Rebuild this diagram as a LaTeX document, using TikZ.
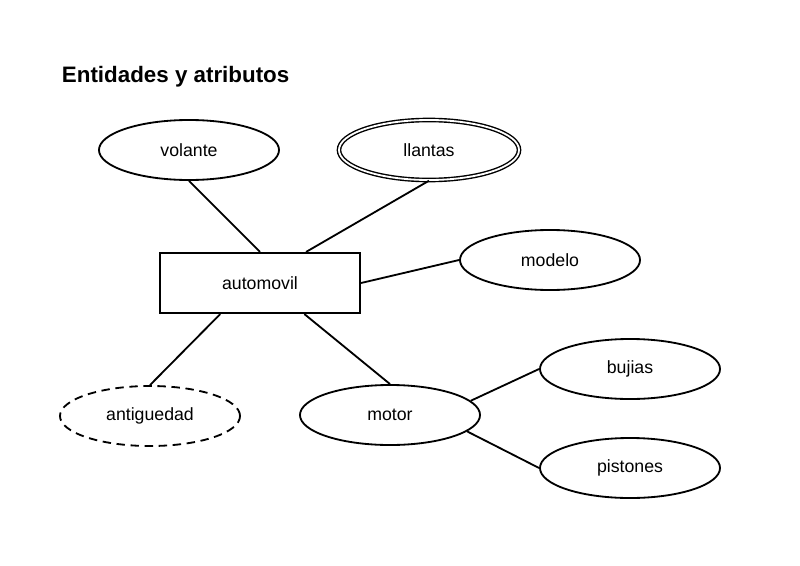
\documentclass[tikz,border=0pt]{standalone}
\usepackage{fontspec}
\setmainfont{Liberation Sans}
\usepackage{tikz}
\usetikzlibrary{shapes.geometric, positioning, calc}

\begin{document}
\begin{tikzpicture}[
    x=0.025cm, y=-0.025cm,
    attr/.style={draw, ellipse, line width=1.3pt, minimum width=4.5cm,
      minimum height=1.5cm, inner sep=0pt, font=\fontsize{12.6}{15}\selectfont},
    multiattr/.style={attr, double, line width=1pt, double distance=1.3pt},
    derivattr/.style={attr, dashed, dash pattern=on 6pt off 4pt},
    entity/.style={draw, rectangle, line width=1.5pt, minimum width=5cm,
      minimum height=1.5cm, font=\fontsize{12.6}{15}\selectfont},
    link/.style={line width=1.3pt}
]
\useasboundingbox (0,0) rectangle (800,565);
\node[anchor=west, font=\bfseries\fontsize{15.9}{18}\selectfont] (title) at (57,77) {Entidades y atributos};

\node[entity] (automovil) at (260,283) {automovil};
\node[attr] (volante) at (189,150) {volante};
\node[multiattr] (llantas) at (429,150) {llantas};
\node[attr] (modelo) at (550,260) {modelo};
\node[derivattr] (antiguedad) at (150,416) {antiguedad};
\node[attr] (motor) at (390,415) {motor};
\node[attr] (bujias) at (630,369) {bujias};
\node[attr] (pistones) at (630,468) {pistones};

\draw[link] (volante.south) -- (automovil.north);
\draw[link] (llantas.south) -- (automovil.34);
\draw[link] (modelo.west) -- (automovil.east);
\draw[link] (antiguedad.north) -- (automovil.218);
\draw[link] (motor.north) -- (automovil.-35.5);
\draw[link] (motor.10) -- (bujias.west);
\draw[link] (motor.-12) -- (pistones.west);
\end{tikzpicture}
\end{document}
